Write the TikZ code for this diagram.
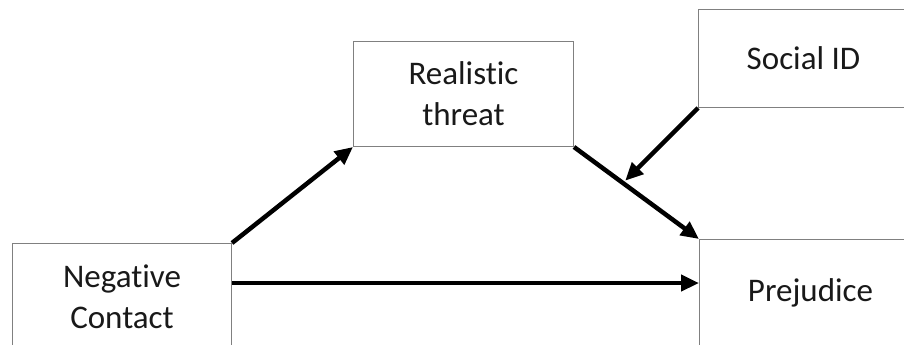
\documentclass[tikz,border=0pt]{standalone}
\usepackage{fontspec}
\setmainfont[RawFeature=-liga]{Carlito}
\usetikzlibrary{arrows.meta,calc}
\tikzset{
  box/.style={draw=black!50, line width=1pt, fill=white, anchor=north west, align=center,
    font=\fontsize{33}{41}\selectfont, text=black!90, inner sep=0pt},
  arr/.style={line width=4.5pt, -{Triangle[length=18pt,width=16pt]}}
}
\begin{document}
\begin{tikzpicture}[x=1pt,y=-1pt]
\useasboundingbox (0,0) rectangle (904,345);
\clip (0,0) rectangle (904,345);
\node[box, minimum width=219pt, minimum height=106pt] (nc) at (12,243) {Negative\\Contact};
\node[box, minimum width=220pt, minimum height=105pt] (rt) at (353,41) {Realistic\\threat};
\node[box, minimum width=210pt, minimum height=98pt] (sid) at (698,9) {Social ID};
\node[box, minimum width=222pt, minimum height=106pt] (prej) at (699,239) {Prejudice};
\coordinate (hy) at (0,283);
\coordinate (mod) at ($(rt.south east)!0.41!(prej.north west)+(0,-4)$);
\draw[arr] (nc.north east) -- (rt.south west);
\draw[arr] (rt.south east) -- (prej.north west);
\draw[arr] (sid.south west) -- (mod);
\draw[arr] (hy -| nc.east) -- (hy -| prej.west);
\end{tikzpicture}
\end{document}
